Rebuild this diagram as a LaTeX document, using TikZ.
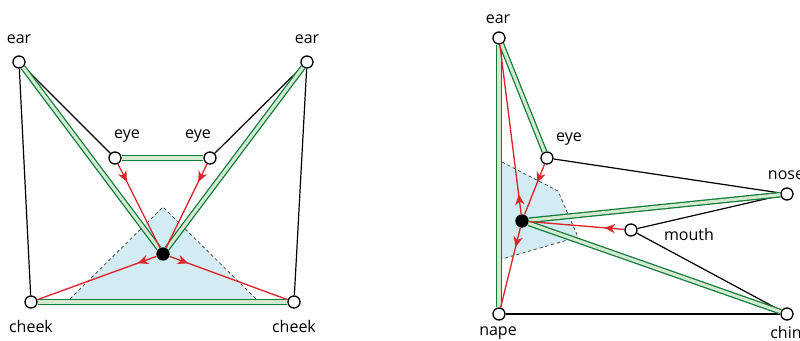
\documentclass[tikz,border=0pt]{standalone}
\usepackage{fontspec}
\setmainfont{Open Sans}
\usetikzlibrary{arrows.meta,decorations.markings}
\definecolor{bargreen}{RGB}{16,122,56}
\definecolor{barfill}{RGB}{210,234,208}
\definecolor{flowred}{RGB}{218,37,42}
\definecolor{zonefill}{RGB}{211,235,243}
\tikzset{
  pt/.style={circle, draw=black, fill=white, line width=1pt, minimum size=9pt, inner sep=0pt},
  hub/.style={circle, fill=black, minimum size=10pt, inner sep=0pt},
  lbl/.style={font=\fontsize{12}{14}\selectfont, inner sep=0pt},
  link/.style={draw=black, line width=0.9pt},
  bar/.style={draw=bargreen, double=barfill, line width=0.95pt, double distance=2.4pt},
  flow/.style={draw=flowred, line width=1pt, postaction={decorate},
    decoration={markings, mark=at position 15pt with {\arrow{Stealth[length=8pt,width=7pt,inset=2.5pt]}}}},
  zone/.style={draw=black!70, dash pattern=on 2.5pt off 2pt, line width=0.6pt}
}

\begin{document}
\begin{tikzpicture}[x=0.75pt,y=-0.75pt]
\useasboundingbox (0,0) rectangle (800,341);

% front view
\fill[zonefill] (70,300) -- (163,207) -- (256,300) -- cycle;
\draw[zone] (70,299) -- (163,207) -- (256,299);
\node[pt] (earL) at (19,62) {};
\node[pt] (earR) at (307,62) {};
\node[pt] (eyeL) at (115,158) {};
\node[pt] (eyeR) at (210,158) {};
\node[pt] (cheekL) at (31,302) {};
\node[pt] (cheekR) at (294,302) {};
\node[hub] (c1) at (163,254) {};
\node[lbl] (tEarL) at (19,39) {ear};
\node[lbl] (tEarR) at (307,39) {ear};
\node[lbl] (tEyeL) at (127,136) {eye};
\node[lbl] (tEyeR) at (198,136) {eye};
\node[lbl] (tCheekL) at (31,327) {cheek};
\node[lbl] (tCheekR) at (294,327) {cheek};
\draw[link] (earL)--(cheekL); \draw[link] (earR)--(cheekR);
\draw[link] (earL)--(eyeL); \draw[link] (earR)--(eyeR);
\draw[bar] (earL)--(c1); \draw[bar] (earR)--(c1);
\draw[bar] (eyeL)--(eyeR); \draw[bar] (cheekL)--(cheekR);
\draw[flow] (eyeL)--(c1); \draw[flow] (eyeR)--(c1);
\draw[flow] (c1)--(cheekL); \draw[flow] (c1)--(cheekR);

% side view
\fill[zonefill] (502,162) -- (558,191) -- (578,237) -- (502,259) -- cycle;
\draw[zone] (502,162) -- (558,191) -- (578,237) -- (502,259);
\node[pt] (ear) at (499,38) {};
\node[pt] (eye) at (547,158) {};
\node[pt] (nose) at (787,194) {};
\node[pt] (mouth) at (631,230) {};
\node[pt] (nape) at (499,314) {};
\node[pt] (chin) at (787,314) {};
\node[hub] (c2) at (522,221) {};
\node[lbl] (tEar) at (498,19) {ear};
\node[lbl] (tEye) at (569,139) {eye};
\node[lbl] (tNose) at (786,175) {nose};
\node[lbl] (tMouth) at (689,235) {mouth};
\node[lbl] (tNape) at (498,333) {nape};
\node[lbl] (tChin) at (786,333) {chin};
\draw[link] (eye)--(nose); \draw[link] (nose)--(mouth);
\draw[link] (mouth)--(chin); \draw[link] (nape)--(chin);
\draw[bar] (ear)--(nape); \draw[bar] (ear)--(eye);
\draw[bar] (nose)--(c2); \draw[bar] (c2)--(chin);
\draw[flow] (eye)--(c2); \draw[flow] (mouth)--(c2);
\draw[flow] (c2)--(ear); \draw[flow] (c2)--(nape);
\end{tikzpicture}
\end{document}
